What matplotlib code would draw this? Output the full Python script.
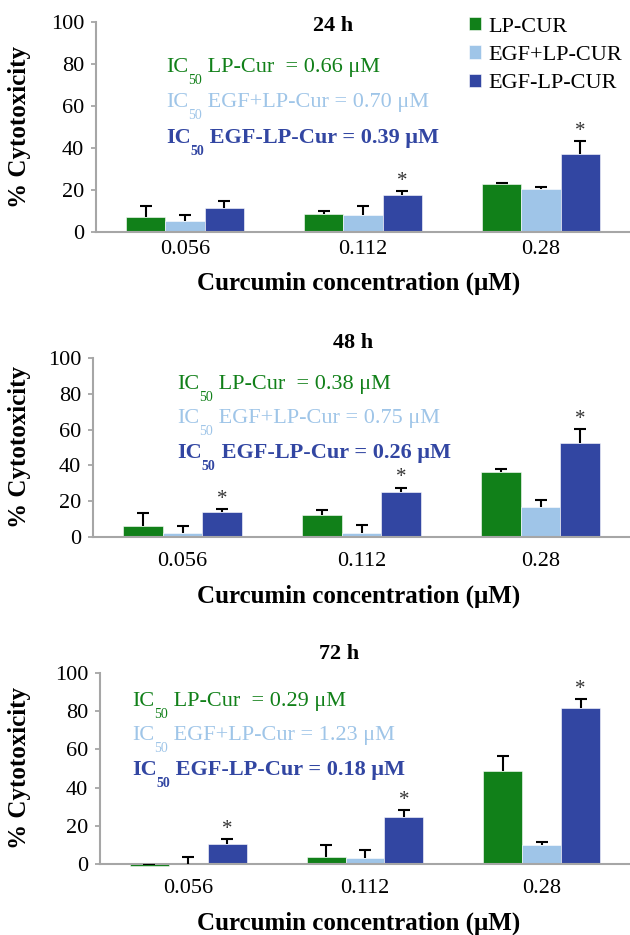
import matplotlib
matplotlib.use('Agg')
import matplotlib.pyplot as plt
import numpy as np

plt.rcParams['font.family'] = ['Liberation Serif', 'DejaVu Serif']

# data
times = ['24 h', '48 h', '72 h']
concs = ['0.056', '0.112', '0.28']
series = ['LP-CUR', 'EGF+LP-CUR', 'EGF-LP-CUR']

lp_cur = [[7.2, 8.7, 22.9], [6.0, 12.3, 36.5], [-0.8, 3.5, 48.7]]
lp_cur_err = [[5.2, 1.3, 0.5], [7.6, 2.6, 1.5], [0.4, 6.6, 7.8]]
egf_plus = [[5.2, 8.0, 20.5], [2.0, 2.0, 16.8], [0.2, 3.0, 9.8]]
egf_plus_err = [[2.7, 4.4, 0.8], [4.1, 4.5, 3.7], [3.6, 4.3, 1.5]]
egf_lp = [[11.3, 17.5, 37.0], [14.2, 25.1, 52.7], [10.5, 24.4, 81.5]]
egf_lp_err = [[3.3, 1.9, 6.2], [1.3, 2.5, 7.6], [2.4, 4.0, 4.7]]
significant = [[False, True, True], [True, True, True], [True, True, True]]

ic50_lp = ['0.66', '0.38', '0.29']
ic50_plus = ['0.70', '0.75', '1.23']
ic50_egf = ['0.39', '0.26', '0.18']

colors = ['#118019', '#9fc5e8', '#3246a2']

W, H = 630, 935
fig = plt.figure(figsize=(W / 100, H / 100), dpi=100)


def fx(px):
    return px / W


def fy(py):
    return 1 - py / H


# panel boxes in pixels: left, top, bottom
boxes = [(96, 22, 232), (93, 358, 537), (100, 673, 864)]
title_pos = [(333, 31), (353, 348), (339, 659)]
ic_pos = [(166, [72, 107, 143]), (177, [389, 423, 458]), (132, [706, 740, 775])]
ylabel_y = [127, 447, 768]
xlabel_y = [283, 596, 923]
xtick_pad = [6, 11, 11]


def ic50_line(ax, px, py, label, color, weight):
    # "IC" + lowered subscript "50" + rest of the line
    base = fy(py)
    t1 = fig.text(fx(px), base, 'IC', ha='left', va='baseline', fontsize=16,
                  color=color, fontweight=weight)
    t2 = ax.annotate('50', xy=(1, base - 12 / H), xycoords=(t1, 'figure fraction'),
                     ha='left', va='baseline', fontsize=10, color=color,
                     fontweight=weight, annotation_clip=False)
    ax.annotate(' ' + label, xy=(1, base), xycoords=(t2, 'figure fraction'),
                ha='left', va='baseline', fontsize=16, color=color,
                fontweight=weight, annotation_clip=False)


x = np.arange(len(concs))
w = 0.22

for i, t in enumerate(times):
    left, top, bottom = boxes[i]
    ax = fig.add_axes([fx(left), fy(bottom), fx(W - left), (bottom - top) / H])
    vals = [lp_cur[i], egf_plus[i], egf_lp[i]]
    errs = [lp_cur_err[i], egf_plus_err[i], egf_lp_err[i]]
    for j in range(3):
        pos = x + (j - 1) * w
        ax.bar(pos, vals[j], w, color=colors[j], edgecolor='white', linewidth=0.4,
               label=series[j], clip_on=False, zorder=2)
        eb = ax.errorbar(pos, vals[j], yerr=[np.zeros(3), errs[j]], fmt='none',
                         ecolor='black', elinewidth=1.5, capsize=4.5, capthick=1.5, zorder=3)
        eb[1][0].set_visible(False)  # only the plus cap
    for k in range(3):
        if significant[i][k]:
            top_val = egf_lp[i][k] + egf_lp_err[i][k]
            ax.annotate('*', (x[k] + w, top_val), xytext=(0, 7), textcoords='offset points',
                        ha='center', va='center', fontsize=15, color='#333333')

    ax.set_xlim(-0.5, 2.5)
    ax.set_ylim(0, 100)
    ax.set_yticks(range(0, 101, 20))
    ax.set_xticks(x)
    ax.set_xticklabels(concs)
    ax.tick_params(axis='y', direction='out', length=3.6, width=1.3, color='#a6a6a6',
                   labelsize=16, pad=5)
    ax.tick_params(axis='x', length=0, labelsize=16, pad=xtick_pad[i])
    for s in ['top', 'right']:
        ax.spines[s].set_visible(False)
    for s in ['left', 'bottom']:
        ax.spines[s].set_color('#a6a6a6')
        ax.spines[s].set_linewidth(1.5)
    ax.patch.set_visible(False)

    tx, ty = title_pos[i]
    fig.text(fx(tx), fy(ty), t, ha='center', va='baseline', fontsize=16, fontweight='bold')
    fig.text(fx(20), fy(ylabel_y[i]), '% Cytotoxicity', rotation=90, ha='center', va='center',
             fontsize=18, fontweight='bold')
    fig.text(fx(359), fy(xlabel_y[i]), 'Curcumin concentration (μM)', ha='center', va='center',
             fontsize=18, fontweight='bold')

    ix, rows = ic_pos[i]
    ic50_line(ax, ix, rows[0], 'LP-Cur  = ' + ic50_lp[i] + ' μM', colors[0], 'normal')
    ic50_line(ax, ix, rows[1], 'EGF+LP-Cur = ' + ic50_plus[i] + ' μM', colors[1], 'normal')
    ic50_line(ax, ix, rows[2], 'EGF-LP-Cur = ' + ic50_egf[i] + ' μM', colors[2], 'bold')

    if i == 0:
        ax.legend(loc='upper left', bbox_to_anchor=(fx(469), fy(17)),
                  bbox_transform=fig.transFigure, frameon=False, fontsize=16,
                  handlelength=0.55, handleheight=0.55, handletextpad=0.3,
                  labelspacing=0.4, borderpad=0, borderaxespad=0)

fig.savefig('out.png', dpi=100)
